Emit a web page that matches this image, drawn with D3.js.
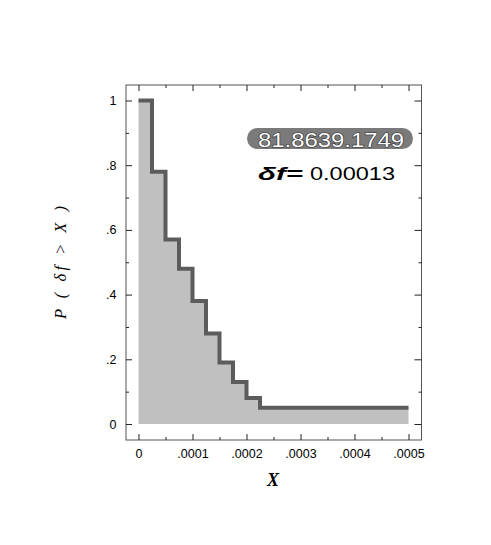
<!DOCTYPE html>
<html><head><meta charset="utf-8">
<script src="https://cdn.jsdelivr.net/npm/d3@7"></script>
<style>
body{margin:0;background:#fff;}
svg{display:block;}
</style></head>
<body>
<svg id="c" width="491" height="545"></svg>
<script>
// Data
const stepX = [0, 0.000025, 0.00005, 0.000075, 0.0001, 0.000125, 0.00015, 0.000175, 0.0002, 0.000225, 0.0005];
const stepP = [1, 0.78, 0.57, 0.48, 0.38, 0.28, 0.19, 0.13, 0.08, 0.05, 0.05];
const xTicks = [0, 0.0001, 0.0002, 0.0003, 0.0004, 0.0005];
const xMinor = [0.00005, 0.00015, 0.00025, 0.00035, 0.00045];
const yTicks = [0, 0.2, 0.4, 0.6, 0.8, 1];
const yMinor = [0.1, 0.3, 0.5, 0.7, 0.9];
const idLabel = "81.8639.1749";
const dfLabel = "δf=";
const dfValue = "0.00013";

const svg = d3.select("#c");
const F = {l:126, t:85, r:421.5, b:440};
const x = d3.scaleLinear().domain([0, 0.0005]).range([138.5, 408.5]);
const y = d3.scaleLinear().domain([0, 1]).range([424, 100.5]);

const pts = stepX.map((d,i)=>[d, stepP[i]]);

// area
svg.append("path")
  .attr("d", d3.area().x(d=>x(d[0])).y0(y(0)).y1(d=>y(d[1])).curve(d3.curveStepAfter)(pts))
  .attr("fill", "#c0c0c0");
svg.append("path")
  .attr("d", d3.line().x(d=>x(d[0])).y(d=>y(d[1])).curve(d3.curveStepAfter)(pts))
  .attr("fill", "none").attr("stroke", "#5c5c5c").attr("stroke-width", 4)
  .attr("stroke-linejoin", "miter").attr("stroke-linecap", "butt");

// frame
svg.append("rect").attr("x", F.l).attr("y", F.t).attr("width", F.r-F.l).attr("height", F.b-F.t)
  .attr("fill", "none").attr("stroke", "#555").attr("stroke-width", 1);

const fmtX = d => d === 0 ? "0" : d3.format(".4f")(d).replace(/^0/, "");
const fmtY = d => d === 0 ? "0" : (d === 1 ? "1" : d3.format(".1f")(d).replace(/^0/, ""));

function styleAxis(g){
  g.select(".domain").remove();
  g.selectAll("line").attr("stroke", "#222");
  g.selectAll("text").attr("font-family", "Liberation Sans, Arial, sans-serif")
    .attr("font-size", 12.5).attr("fill", "#000");
}
// left
svg.append("g").attr("transform", `translate(${F.l},0)`)
  .call(d3.axisLeft(y).tickValues(yTicks).tickFormat(fmtY).tickSize(-6).tickPadding(9.5)).call(styleAxis);
svg.append("g").attr("transform", `translate(${F.l},0)`)
  .call(d3.axisLeft(y).tickValues(yMinor).tickFormat("").tickSize(-3)).call(styleAxis);
// right
svg.append("g").attr("transform", `translate(${F.r},0)`)
  .call(d3.axisRight(y).tickValues(yTicks).tickFormat("").tickSize(-7)).call(styleAxis);
svg.append("g").attr("transform", `translate(${F.r},0)`)
  .call(d3.axisRight(y).tickValues(yMinor).tickFormat("").tickSize(-3)).call(styleAxis);
// bottom
svg.append("g").attr("transform", `translate(0,${F.b})`)
  .call(d3.axisBottom(x).tickValues(xTicks).tickFormat(fmtX).tickSize(-6).tickPadding(9.5)).call(styleAxis);
svg.append("g").attr("transform", `translate(0,${F.b})`)
  .call(d3.axisBottom(x).tickValues(xMinor).tickFormat("").tickSize(-3)).call(styleAxis);
// top
svg.append("g").attr("transform", `translate(0,${F.t})`)
  .call(d3.axisTop(x).tickValues(xTicks).tickFormat("").tickSize(-6)).call(styleAxis);
svg.append("g").attr("transform", `translate(0,${F.t})`)
  .call(d3.axisTop(x).tickValues(xMinor).tickFormat("").tickSize(-3)).call(styleAxis);

// pill label
svg.append("rect").attr("x", 247).attr("y", 128).attr("width", 166).attr("height", 21)
  .attr("rx", 10.5).attr("fill", "#7a7a7a");
svg.append("text").attr("x", 258).attr("y", 146.5)
  .attr("font-family", "Liberation Sans, Arial, sans-serif").attr("font-size", 20.5)
  .attr("fill", "#fff").attr("stroke", "#333").attr("stroke-width", 1.2).attr("paint-order", "stroke")
  .attr("textLength", 146).attr("lengthAdjust", "spacingAndGlyphs")
  .text(idLabel);

// delta f
svg.append("text").attr("x", 258).attr("y", 179.5)
  .attr("font-family", "Liberation Sans, Arial, sans-serif").attr("font-size", 18)
  .attr("font-weight", "bold").attr("font-style", "italic")
  .attr("textLength", 45).attr("lengthAdjust", "spacingAndGlyphs")
  .text(dfLabel);
svg.append("text").attr("x", 310).attr("y", 179.5)
  .attr("font-family", "Liberation Sans, Arial, sans-serif").attr("font-size", 18)
  .attr("textLength", 85).attr("lengthAdjust", "spacingAndGlyphs")
  .text(dfValue);

// axis titles
svg.append("text").attr("x", 273).attr("y", 486).attr("text-anchor", "middle")
  .attr("font-family", "Liberation Serif, Times New Roman, serif").attr("font-size", 18)
  .attr("font-weight", "bold").attr("font-style", "italic").text("X");
svg.append("text").attr("transform", "translate(66,262.5) rotate(-90)").attr("text-anchor", "middle")
  .attr("font-family", "Liberation Serif, Times New Roman, serif").attr("font-size", 16.5)
  .attr("font-style", "italic")
  .attr("textLength", 113).attr("lengthAdjust", "spacing")
  .text("P ( δf > X )");
</script>
</body></html>
